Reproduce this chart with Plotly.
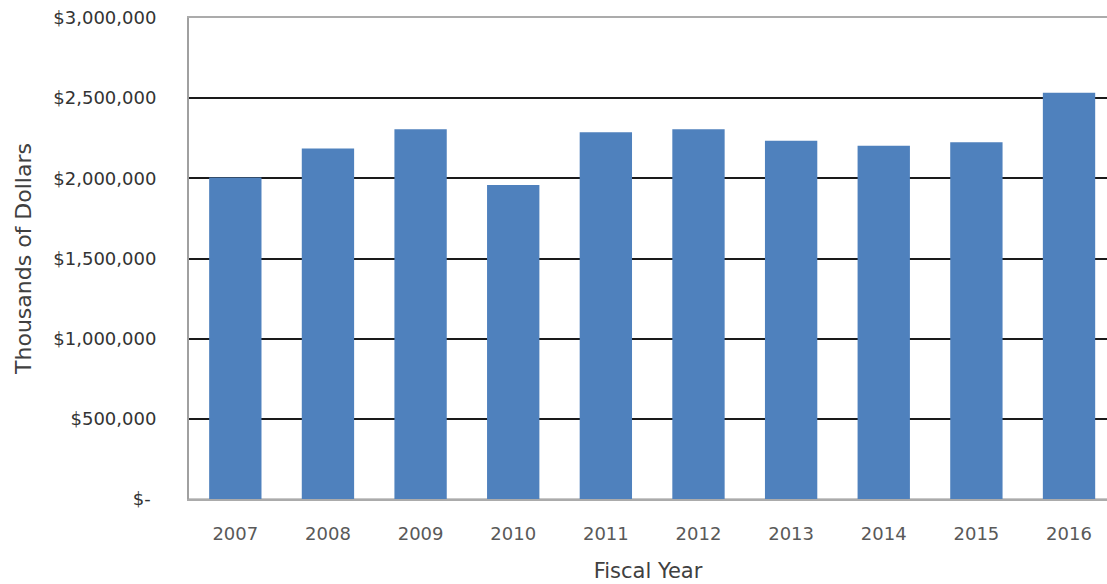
import plotly.graph_objects as go

years = ["2007", "2008", "2009", "2010", "2011", "2012", "2013", "2014", "2015", "2016"]
values = [2005000, 2186000, 2306000, 1958000, 2288000, 2306000, 2235000, 2204000, 2225000, 2534000]
ytick_vals = [0, 500000, 1000000, 1500000, 2000000, 2500000, 3000000]
ytick_text = ["$-\u00a0", "$500,000", "$1,000,000", "$1,500,000", "$2,000,000", "$2,500,000", "$3,000,000"]

FONT = "DejaVu Sans"

fig = go.Figure(go.Bar(
    x=years, y=values,
    marker=dict(color="#4F81BD", line=dict(width=0)),
    width=0.565,
))

fig.update_layout(
    width=1107, height=584,
    margin=dict(l=189, r=0, t=18, b=85),
    plot_bgcolor="white", paper_bgcolor="white",
    showlegend=False,
    font=dict(family=FONT),
)

fig.update_xaxes(
    type="category",
    range=[-0.5, 9.41],
    showgrid=False,
    showline=True, linecolor="#ABABAB", linewidth=1.5, mirror=True,
    ticks="", ticklabelstandoff=18,
    tickfont=dict(family=FONT, size=18, color="#595959"),
    title=dict(text="Fiscal Year", font=dict(family=FONT, size=21, color="#404040"), standoff=20),
)

fig.update_yaxes(
    range=[0, 3000000],
    tickmode="array", tickvals=ytick_vals, ticktext=ytick_text,
    showgrid=True, gridcolor="#1a1a1a", gridwidth=2,
    zeroline=True, zerolinecolor="#C8C8C8", zerolinewidth=1.5,
    showline=True, linecolor="#A0A0A0", linewidth=2,
    ticks="", ticklabelstandoff=27,
    tickfont=dict(family=FONT, size=18, color="#333333"),
    title=dict(text="Thousands of Dollars", font=dict(family=FONT, size=22, color="#404040"), standoff=16),
)

fig.write_html("out.html")
